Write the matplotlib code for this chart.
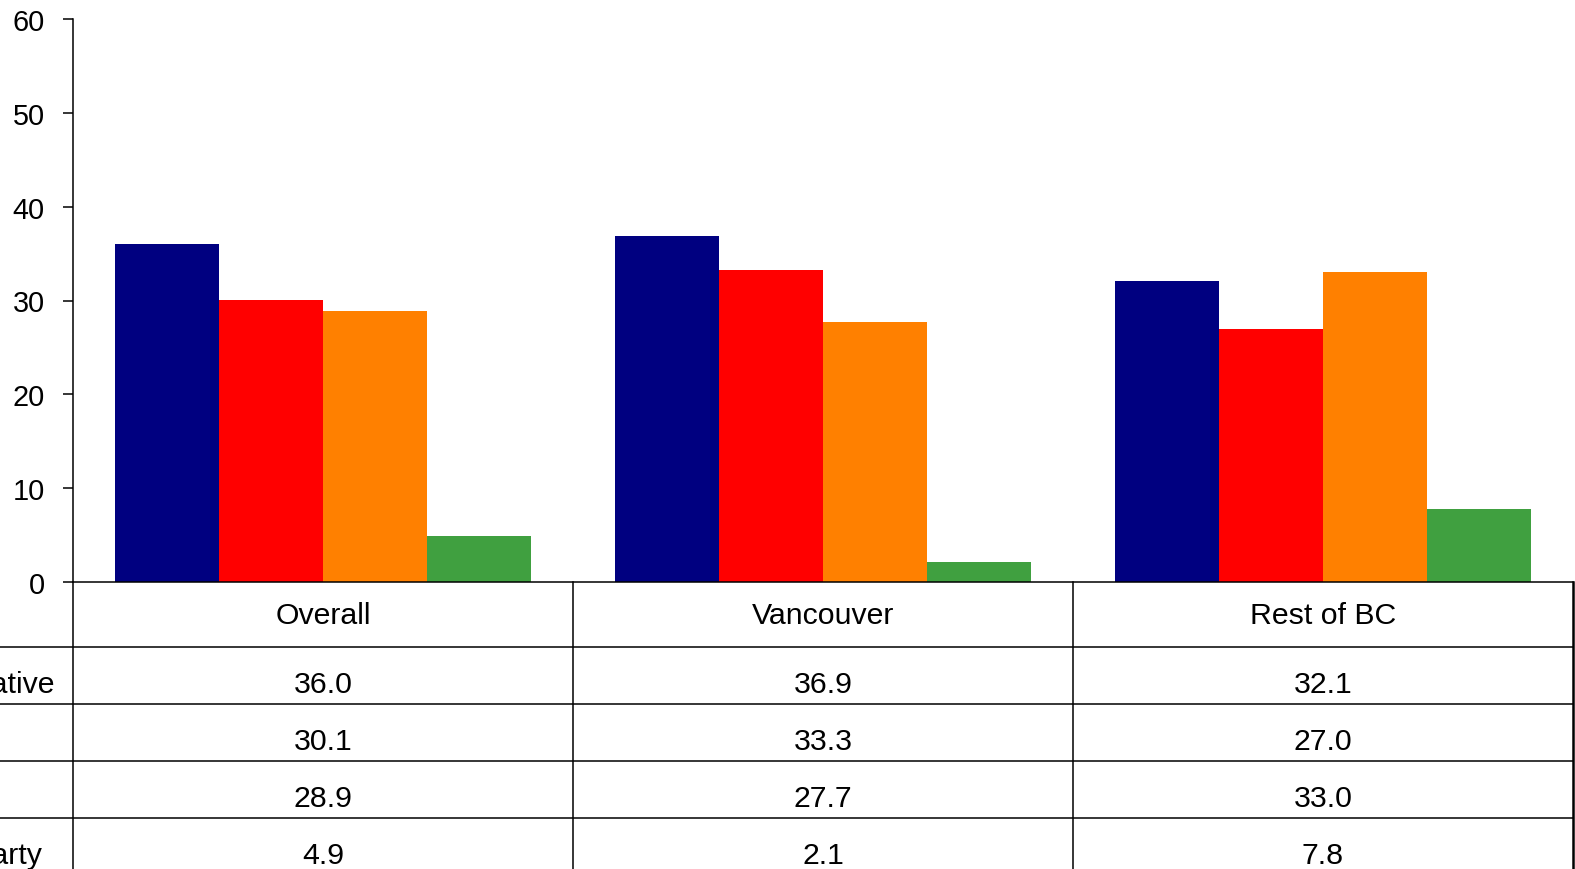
import matplotlib
matplotlib.use("Agg")
import matplotlib.pyplot as plt
from matplotlib.lines import Line2D
import numpy as np

plt.rcParams['font.family'] = ['Liberation Sans', 'DejaVu Sans']

categories = ["Overall", "Vancouver", "Rest of BC"]
series_names = ["Conservative", "Liberal", "NDP", "Green Party"]
conservative = [36.0, 36.9, 32.1]
liberal = [30.1, 33.3, 27.0]
ndp = [28.9, 27.7, 33.0]
green = [4.9, 2.1, 7.8]
series_values = [conservative, liberal, ndp, green]
colors = ["#000080", "#FF0000", "#FF8000", "#40A040"]
yticks = [0, 10, 20, 30, 40, 50, 60]

W, H = 1575, 870
fig = plt.figure(figsize=(W / 100, H / 100), dpi=100)

ax_left, ax_right, ax_top, ax_bottom = 73, 1573, 20, 583
ax = fig.add_axes([ax_left / W, 1 - ax_bottom / H, (ax_right - ax_left) / W, (ax_bottom - ax_top) / H])

n = len(series_names)
bw = 0.208
x = np.arange(len(categories))
for i, (vals, c) in enumerate(zip(series_values, colors)):
    ax.bar(x + (i - (n - 1) / 2) * bw, vals, width=bw, color=c, linewidth=0)

ax.set_xlim(-0.5, len(categories) - 0.5)
ax.set_ylim(0, 60)
ax.set_yticks(yticks)
ax.set_xticks([])
for s in ["top", "right"]:
    ax.spines[s].set_visible(False)
for s in ["left", "bottom"]:
    ax.spines[s].set_linewidth(1.1)
    ax.spines[s].set_color("black")
ax.tick_params(axis="y", direction="out", length=7.2, width=1.1, pad=13, labelsize=20.8, colors="black")

# Data table drawn in pixel coordinates on an overlay axes
tax = fig.add_axes([0, 0, 1, 1])
tax.set_xlim(0, W)
tax.set_ylim(H, 0)
tax.axis("off")

fs = 21.8
col_w = (ax_right - ax_left) / len(categories)
header_bottom = 648
row_h = 57
row_lines = [header_bottom + k * row_h for k in range(len(series_names) + 1)]
lw = 1.1

# vertical lines
for k in range(len(categories) + 1):
    xv = ax_left + k * col_w
    tax.add_line(Line2D([xv, xv], [ax_bottom, H + 10], color="black", lw=lw if k < len(categories) else 1.8))
# horizontal lines
for yl in row_lines[:-1]:
    tax.add_line(Line2D([0, ax_right], [yl, yl], color="black", lw=lw))

# header
for j, cat in enumerate(categories):
    tax.text(ax_left + (j + 0.5) * col_w, (ax_bottom + header_bottom) / 2 + 1, cat,
             ha="center", va="center", fontsize=fs, color="black")

# rows (row labels start left of the visible area, as in the cropped reference)
for i, (name, vals) in enumerate(zip(series_names, series_values)):
    yc = row_lines[i] + row_h / 2 + 9
    tax.text(-121, yc, name, ha="left", va="center", fontsize=fs, color="black", clip_on=False)
    for j, v in enumerate(vals):
        tax.text(ax_left + (j + 0.5) * col_w, yc, f"{v:.1f}",
                 ha="center", va="center", fontsize=fs, color="black")

fig.savefig("out.png", dpi=100)
